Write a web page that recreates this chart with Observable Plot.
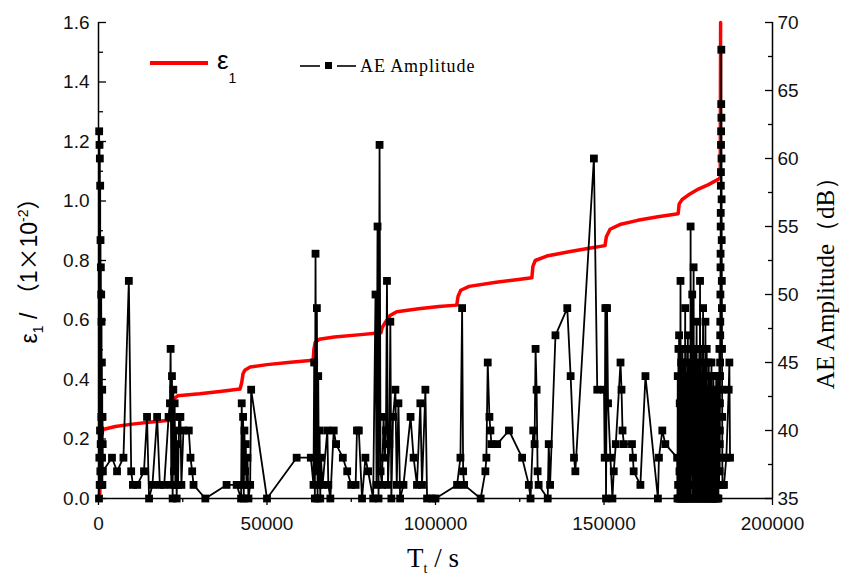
<!DOCTYPE html>
<html><head><meta charset="utf-8">
<script src="https://cdn.jsdelivr.net/npm/d3@7"></script>
<script src="https://cdn.jsdelivr.net/npm/@observablehq/plot@0.6"></script>
<style>
body{margin:0;background:#fff;}
#wrap{position:relative;width:843px;height:577px;}
</style></head><body><div id="wrap"></div>
<script>
// strain ε1 (×10^-2) versus time (s)
const strainTime = [0,400,800,1300,5000,10000,15000,21200,21400,21700,23500,30000,36000,42000,42500,42900,43500,45000,50000,57000,63700,63900,64300,65500,70000,77000,83800,84200,85000,86500,88500,95000,101000,106300,106700,107500,110000,118000,124000,128600,128900,129600,133000,140000,146000,150300,150700,151800,155000,160000,166000,172000,172300,173200,175000,178000,181000,184200,184500,184600];
const strainValue = [0,0.02,0.20,0.232,0.242,0.25,0.256,0.263,0.30,0.33,0.345,0.352,0.36,0.368,0.39,0.42,0.432,0.442,0.45,0.458,0.465,0.50,0.525,0.535,0.543,0.55,0.557,0.575,0.59,0.615,0.628,0.638,0.645,0.650,0.68,0.70,0.713,0.727,0.735,0.742,0.78,0.80,0.815,0.83,0.842,0.85,0.88,0.905,0.922,0.935,0.947,0.957,0.99,1.005,1.02,1.04,1.055,1.075,1.08,1.6];

// AE amplitude (dB) versus time (s): early events up to 171700 s
const aeTimeEarly = [150,200,250,300,350,400,450,500,550,600,650,700,750,800,850,900,950,1000,1050,1100,1150,1200,1250,1300,4000,5500,7400,9000,9700,10200,11500,13500,14400,15000,16000,17400,18200,19500,20800,21200,21400,21600,21800,22000,22200,22400,22600,22800,23000,23200,23400,23600,23900,24300,24600,25200,26800,27300,27800,28200,31700,38000,41000,42300,42500,42700,42900,43100,43300,43500,43700,43900,44200,44500,45000,45300,50000,58800,63000,63800,64000,64200,64400,64600,64800,65000,65200,65400,65600,65800,66000,66500,67900,68200,68800,69800,70500,72500,73800,75000,76300,76700,77250,78200,79200,80000,81500,82200,82500,82800,83100,83400,83700,84100,84600,85000,85300,85600,85900,86300,86600,86900,87400,88100,88500,89000,89500,90500,92600,93500,94500,95500,96000,97000,97500,99000,100000,106400,107400,107900,108200,108500,113400,114800,115100,115500,116000,116300,116600,118300,121800,125700,127700,128200,129000,129400,129700,130000,130300,130600,133300,133600,134000,135600,139100,140100,141100,141500,147000,148000,150000,150200,150400,150600,150900,151200,151900,152500,152900,153500,154900,155200,155500,155900,158300,158600,158800,160800,162300,166000,166300,167300,168200,171700];
const aeAmpEarly = [35,62,38,61,36,60,40,58,37,54,39,52,36,50,41,48,37,45,38,43,36,41,39,37,38,37,38,51,37,36,36,37,41,35,36,41,36,36,41,42,46,36,44,35,43,37,42,36,40,35,39,36,41,41,36,40,40,38,37,36,35,36,36,35,42,36,41,35,40,37,39,36,38,35,36,43,35,38,38,36,45,35,53,37,49,35,44,36,40,35,38,36,40,36,35,40,39,38,37,36,36,40,40,35,38,37,35,50,36,55,35,61,37,36,41,38,40,51,36,39,48,35,41,43,36,42,35,36,41,38,36,42,36,43,35,35,35,36,38,49,37,36,35,37,38,45,41,40,39,39,40,38,36,35,40,39,46,43,37,36,35,39,36,47,49,44,38,37,60,43,43,38,49,35,49,42,38,35,37,39,45,43,40,39,39,38,37,36,44,35,38,40,39,38];

// dense burst before failure
const aeTimeBurst = [171800,171880,171990,172090,172170,172280,172390,172470,172580,172700,
172790,172880,172990,173100,173180,173290,173400,173480,173590,173690,
173800,173900,173980,174090,174200,174280,174390,174500,174580,174690,
174800,174890,174990,175100,175180,175290,175400,175480,175590,175700,
175790,175890,175990,176100,176180,176290,176400,176480,176590,176700,
176790,176880,176990,177100,177180,177290,177400,177480,177590,177690,
177800,177900,177980,178090,178200,178280,178390,178500,178580,178690,
178800,178890,178990,179100,179180,179290,179400,179480,179590,179700,
179790,179880,179990,180100,180180,180290,180400,180480,180590,180690,
180800,180900,180980,181090,181200,181280,181390,181500,181580,181690,
181800,181890,181990,182100,182180,182290,182400,182480,182590,182700,
182790,182880,182990,183100,183180,183290,183400,183480,183590,183700];
const aeAmpBurst = [35,44,36,46,35,47,37,42,35,51,
36,45,35,41,38,46,35,43,36,45,
35,42,36,49,35,46,37,41,35,44,
36,47,35,43,38,45,35,42,36,55,
35,44,37,46,50,41,35,45,52,36,
43,35,46,37,42,35,44,48,36,41,
35,45,38,43,35,46,36,51,35,42,
37,44,35,46,36,41,49,35,43,38,
45,35,42,48,36,44,35,46,37,41,
35,43,36,45,35,42,38,44,35,41,
36,45,35,43,37,40,35,44,36,42,
35,43,37,41,35,44,36,40,35,37];

// final rise and last events
const aeTimeFinal = [183850,183950,184050,184150,184250,184330,184360,184380,184410,184440,184460,184490,184510,184540,184570,184590,184620,184640,184670,184700,184720,184750,184780,184810,184840,184870,184900,184930,184960,184990,185020,185050,185080,185110,185140,185600,186300,187000,187200,187400];
const aeAmpFinal = [44,35,42,36,46,37,39,40,42,44,45,47,48,50,52,53,55,56,58,59,61,62,64,68,63,60,57,54,51,49,46,43,41,38,36,36,38,43,45,38];

const xTicks = [0,50000,100000,150000,200000];
const xMinorTicks = [25000,75000,125000,175000];
const yTicks = [0,0.2,0.4,0.6,0.8,1.0,1.2,1.4,1.6];
const yMinorTicks = [0.1,0.3,0.5,0.7,0.9,1.1,1.3,1.5];
const dbTicks = [35,40,45,50,55,60,65,70];
const dbMinorTicks = [37.5,42.5,47.5,52.5,57.5,62.5,67.5];
const DB_MIN = 35, DB_MAX = 70, Y_MAX = 1.6;
const dbToY = d => (d - DB_MIN) / (DB_MAX - DB_MIN) * Y_MAX;
const yToDb = y => Math.round(DB_MIN + y / Y_MAX * (DB_MAX - DB_MIN));

const strain = strainTime.map((t, i) => ({t, v: strainValue[i]}));
const aeTime = [...aeTimeEarly, ...aeTimeBurst, ...aeTimeFinal];
const aeAmp = [...aeAmpEarly, ...aeAmpBurst, ...aeAmpFinal];
const ae = aeTime.map((t, i) => ({t, y: dbToY(aeAmp[i])}));

const sans = "'Liberation Sans', Arial, sans-serif";
const serif = "'Liberation Serif', 'Times New Roman', serif";

const chart = Plot.plot({
  width: 843, height: 577,
  marginLeft: 98, marginRight: 71, marginTop: 22, marginBottom: 79,
  x: {domain: [0, 200000], axis: null},
  y: {domain: [0, 1.6], axis: null},
  style: {fontFamily: sans, fontSize: "19px", color: "#000", background: "#fff", overflow: "visible"},
  marks: [
    Plot.line(strain, {x: "t", y: "v", stroke: "#ff0000", strokeWidth: 3.5}),
    Plot.line(ae, {x: "t", y: "y", stroke: "#000", strokeWidth: 1.8}),
    Plot.dot(ae, {x: "t", y: "y", symbol: "square", r: 4.4, fill: "#000", stroke: "none"}),
    Plot.ruleX([0], {stroke: "#000", strokeWidth: 1.5}),
    Plot.ruleX([200000], {stroke: "#000", strokeWidth: 1.5}),
    Plot.ruleY([0], {stroke: "#000", strokeWidth: 1.5}),
    // left axis (ticks inward)
    Plot.axisY(yTicks, {anchor: "left", tickSize: 8, dx: 8, tickFormat: () => "", label: null, strokeWidth: 1.3}),
    Plot.axisY(yMinorTicks, {anchor: "left", tickSize: 5, dx: 5, tickFormat: () => "", label: null, strokeWidth: 1.3}),
    Plot.axisY(yTicks, {anchor: "left", tickSize: 0, tickPadding: 9, tickFormat: d3.format(".1f"), label: null, fontSize: 19, fill: "#111"}),
    // right axis (AE amplitude dB)
    Plot.axisY(dbTicks.map(dbToY), {anchor: "right", tickSize: 8, dx: -8, tickFormat: () => "", label: null, strokeWidth: 1.3}),
    Plot.axisY(dbMinorTicks.map(dbToY), {anchor: "right", tickSize: 5, dx: -5, tickFormat: () => "", label: null, strokeWidth: 1.3}),
    Plot.axisY(dbTicks.map(dbToY), {anchor: "right", tickSize: 0, tickPadding: 5, tickFormat: yToDb, label: null, fontSize: 19, fill: "#111"}),
    // bottom axis (ticks outward)
    Plot.axisX(xTicks, {anchor: "bottom", tickSize: 7, tickPadding: 11, tickFormat: d => String(d), label: null, fontSize: 19, fill: "#111", strokeWidth: 1.3}),
    Plot.axisX(xMinorTicks, {anchor: "bottom", tickSize: 4, tickFormat: () => "", label: null, strokeWidth: 1.3})
  ]
});

document.getElementById("wrap").appendChild(chart);
const svg = d3.select(chart);

// Left axis title: ε1 / （1×10-2）
const lt = svg.append("text")
  .attr("transform", "translate(37,265) rotate(-90)")
  .attr("text-anchor", "middle")
  .style("font-family", sans).style("font-size", "23px").attr("fill", "#000");
lt.append("tspan").text("ε");
lt.append("tspan").attr("dy", 6).style("font-size", "14px").text("1");
lt.append("tspan").attr("dy", -6).text(" / ");
lt.append("tspan").style("font-family", "'Noto Sans CJK SC', sans-serif").text("（");
lt.append("tspan").text("1");
lt.append("tspan").style("font-family", "'Noto Sans CJK SC', sans-serif").text("×");
lt.append("tspan").text("10");
lt.append("tspan").attr("dy", -9).style("font-size", "14px").text("-2");
lt.append("tspan").attr("dy", 9).style("font-family", "'Noto Sans CJK SC', sans-serif").text("）");

// Bottom axis title: Tt / s
const bt = svg.append("text")
  .attr("x", 433).attr("y", 567)
  .attr("text-anchor", "middle")
  .style("font-family", serif).style("font-size", "27px").attr("fill", "#000");
bt.append("tspan").text("T");
bt.append("tspan").attr("dy", 6).style("font-size", "14px").text("t");
bt.append("tspan").attr("dy", -6).text(" / s");

// Right axis title
svg.append("text")
  .attr("transform", "translate(834,277) rotate(-90)")
  .attr("text-anchor", "middle")
  .style("font-family", serif).style("font-size", "25px").attr("fill", "#000")
  .text("AE Amplitude（dB）");

// Legend
const lg = svg.append("g").attr("text-anchor", "start");
lg.append("line").attr("x1", 150).attr("x2", 208).attr("y1", 63).attr("y2", 63)
  .attr("stroke", "#ff0000").attr("stroke-width", 4);
const le = lg.append("text").attr("x", 217).attr("y", 69).attr("text-anchor", "start")
  .style("font-family", sans).style("font-size", "26px").attr("fill", "#000");
le.append("tspan").text("ε");
le.append("tspan").attr("dy", 14).style("font-size", "14px").text("1");
lg.append("line").attr("x1", 300).attr("x2", 320).attr("y1", 66).attr("y2", 66).attr("stroke", "#000").attr("stroke-width", 1.6);
lg.append("line").attr("x1", 337).attr("x2", 356).attr("y1", 66).attr("y2", 66).attr("stroke", "#000").attr("stroke-width", 1.6);
lg.append("rect").attr("x", 325).attr("y", 62).attr("width", 7).attr("height", 7).attr("fill", "#000");
lg.append("text").attr("x", 360).attr("y", 72).attr("text-anchor", "start")
  .style("font-family", serif).style("font-size", "18px").style("letter-spacing", "0.9px").attr("fill", "#000")
  .text("AE Amplitude");
</script>
</body></html>
